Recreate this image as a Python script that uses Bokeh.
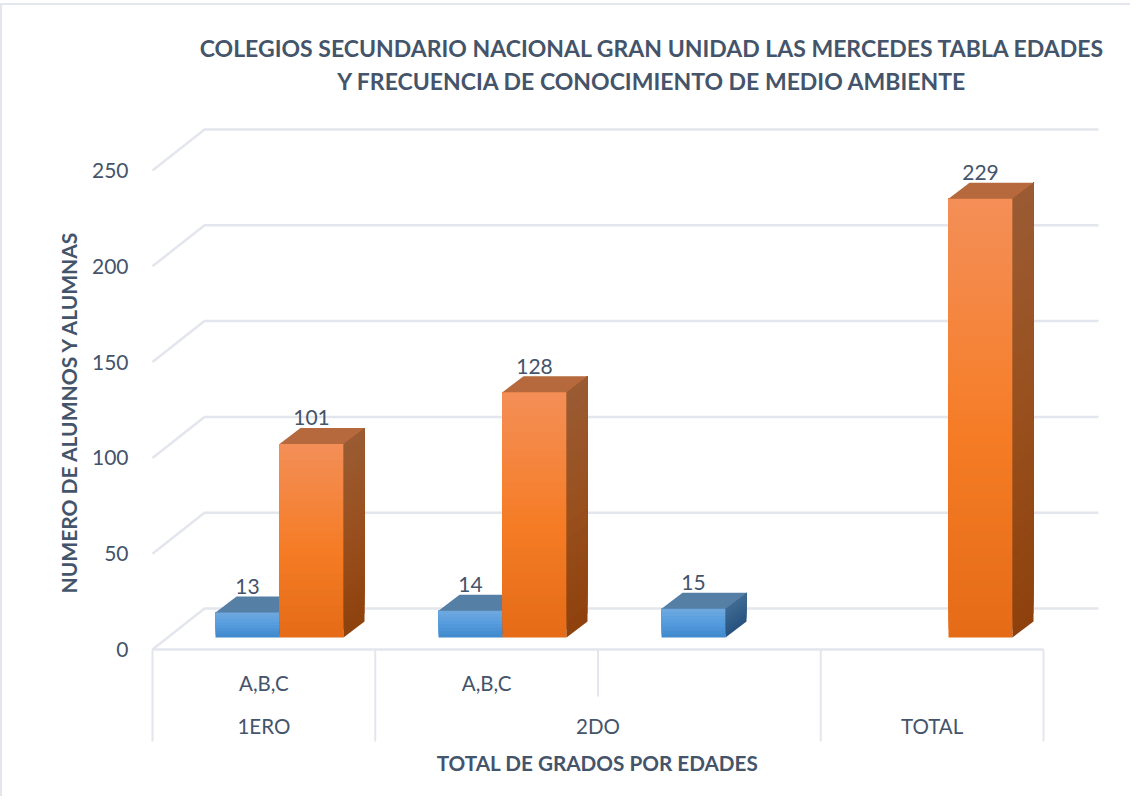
from bokeh.plotting import figure
from bokeh.embed import file_html
from bokeh.resources import INLINE
from bokeh.models import FixedTicker
from bokeh.core.properties import value

title_lines = ["COLEGIOS SECUNDARIO NACIONAL GRAN UNIDAD LAS MERCEDES TABLA EDADES",
               "Y FRECUENCIA DE CONOCIMIENTO DE MEDIO AMBIENTE"]
x_title = "TOTAL DE GRADOS POR EDADES"
y_title = "NUMERO DE ALUMNOS Y ALUMNAS"
sub_labels = ["A,B,C", "A,B,C", "", ""]
groups = ["1ERO", "2DO", "TOTAL"]
group_centers = [0.5, 2.0, 3.5]
blue_vals = [13, 14, 15, None]
orange_vals = [101, 128, None, 229]
y_ticks = [0, 50, 100, 150, 200, 250]

FONT = "Lato"
TXT = "#44546A"
GRID = "#E3E6EC"

# pixel geometry helpers for the pseudo-3D look
SLOT = 222.75          # px per category
PXU = 1.916            # px per value unit
W, H = 1130, 796
LEFT, TOP = 137, 26
def sx(px): return (px - 160) / SLOT
def vy(py): return (657 - py) / PXU

p = figure(width=W, height=H, output_backend="svg", toolbar_location=None,
           x_range=(sx(8 + LEFT), sx(8 + W)), y_range=(vy(8 + H), vy(8 + TOP)),
           min_border_left=LEFT, min_border_top=TOP, min_border_right=0, min_border_bottom=0,
           x_axis_location=None, y_axis_location="left",
           border_fill_color=None, background_fill_color=None, outline_line_color=None)
p.styles = {"background": f"linear-gradient({GRID},{GRID}) 0 3px/100% 2px no-repeat,"
                          f"linear-gradient({GRID},{GRID}) 0 3px/2px 100% no-repeat"}
p.grid.visible = False

ax = p.yaxis[0]
ax.ticker = FixedTicker(ticks=y_ticks)
ax.axis_line_color = None
ax.major_tick_line_color = None
ax.minor_tick_line_color = None
ax.major_label_text_font = FONT
ax.major_label_text_font_size = "21px"
ax.major_label_text_color = TXT
ax.major_label_standoff = 3
ax.axis_label = y_title
ax.axis_label_text_font = FONT
ax.axis_label_text_font_size = "21px"
ax.axis_label_text_font_style = "bold"
ax.axis_label_text_color = TXT
ax.axis_label_standoff = 8

BACK = vy(616)         # back wall offset
BASE = vy(645)         # bar foot offset
DX = 21 / SLOT
DY = 16 / PXU
X_BACK1 = sx(1106)

# gridlines + left wall
for t in y_ticks:
    p.line([0, sx(212), X_BACK1], [t, t + BACK, t + BACK], line_color=GRID, line_width=2.5)
# floor front edge and category separators
p.line([0, 4], [0, 0], line_color=GRID, line_width=2.5)
for xv in [0, 1, 3, 4]:
    p.line([xv, xv], [0, vy(749)], line_color=GRID, line_width=2)
p.line([2, 2], [0, vy(704)], line_color=GRID, line_width=2)

def lerp(c0, c1, t):
    return "#%02x%02x%02x" % tuple(round(a + (b - a) * t) for a, b in zip(c0, c1))
def grad(stops, t):
    for (t0, c0), (t1, c1) in zip(stops, stops[1:]):
        if t <= t1:
            return lerp(c0, c1, (t - t0) / (t1 - t0))
    return lerp(stops[-1][1], stops[-1][1], 0)

ORANGE = dict(front=[(0, (0xE5, 0x6B, 0x17)), (0.45, (0xF5, 0x7C, 0x25)), (1, (0xF4, 0x8F, 0x58))],
              side=[(0, (0x8E, 0x41, 0x0C)), (0.5, (0x99, 0x50, 0x1E)), (1, (0x9A, 0x5B, 0x33))],
              top="#B5693C")
BLUE = dict(front=[(0, (0x3F, 0x87, 0xCC)), (0.5, (0x55, 0x9C, 0xDE)), (1, (0x6F, 0xA9, 0xDE))],
            side=[(0, (0x27, 0x53, 0x7E)), (1, (0x3E, 0x6A, 0x93))],
            top="#567FA6")

BW = 64 / SLOT
def draw_bar(x0, v, st):
    x1 = x0 + BW
    top = BASE + v
    n = max(8, int(v * PXU / 8))
    # painted bottom-up, each band reaching the bar's top, so no seams show
    for i in range(n):
        f0, f1 = i / n, (i + 1) / n
        y0 = BASE + v * f0
        c = grad(st["front"], (f0 + f1) / 2)
        p.quad(left=x0, right=x1, bottom=y0, top=top, fill_color=c, line_color=None)
        c = grad(st["side"], (f0 + f1) / 2)
        p.patch([x1, x1 + DX, x1 + DX, x1], [y0, y0 + DY, top + DY, top],
                fill_color=c, line_color=None)
    p.patch([x0, x1, x1 + DX, x0 + DX], [top, top, top + DY, top + DY],
            fill_color=st["top"], line_color=None)

blue_left = [223, 446, 669, None]
orange_left = [287, 510, None, 956]
lbl_x, lbl_y, lbl_t = [], [], []
for vals, lefts, st in [(blue_vals, blue_left, BLUE), (orange_vals, orange_left, ORANGE)]:
    for v, l in zip(vals, lefts):
        if v is not None:
            draw_bar(sx(l), v, st)
            lbl_x.append(sx(l) + BW / 2); lbl_y.append(BASE + v + DY); lbl_t.append(str(v))

# data labels
p.text(lbl_x, lbl_y, text=lbl_t, text_font=value(FONT), text_font_size="21px", text_color=TXT,
       text_align="center", text_baseline="alphabetic", y_offset=-2 - 8)

# category labels
p.text([i + 0.5 for i, s in enumerate(sub_labels) if s], [vy(690)] * 2,
       text=[s for s in sub_labels if s], text_font=value(FONT), text_font_size="20.5px",
       text_color=TXT, text_align="center", text_baseline="middle")
p.text(group_centers, [vy(733)] * 3, text=groups, text_font=value(FONT), text_font_size="20.5px",
       text_color=TXT, text_align="center", text_baseline="middle")
# axis title
p.text([sx(605)], [vy(770)], text=[x_title], text_font=value(FONT), text_font_size="20.7px",
       text_font_style="bold", text_color=TXT, text_align="center", text_baseline="middle")
# chart title
p.text([sx(660)] * 2, [vy(55), vy(88)], text=title_lines, text_font=value(FONT), text_font_size="23px",
       text_font_style="bold", text_color=TXT, text_align="center", text_baseline="middle")

open("out.html", "w").write(file_html(p, INLINE))
